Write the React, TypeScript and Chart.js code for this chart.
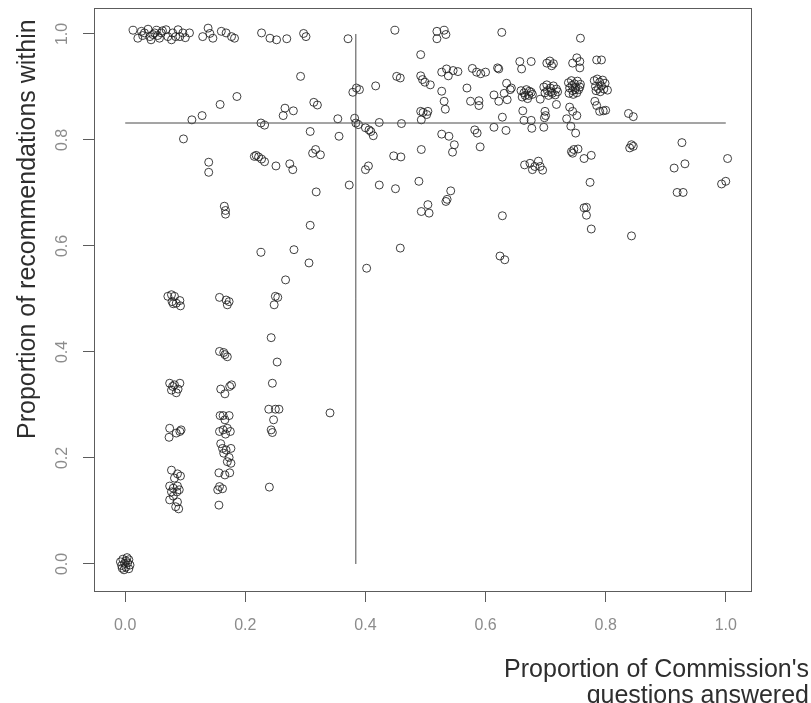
import { useEffect, useRef } from "react";
import { Chart, registerables } from "chart.js";

Chart.register(...registerables);

type Pt = [number, number];

// Axis ticks and titles
const xTickValues = [0, 0.2, 0.4, 0.6, 0.8, 1.0];
const yTickValues = [0, 0.2, 0.4, 0.6, 0.8, 1.0];
const xTitleLines = ["Proportion of Commission's", "questions answered"];
const yTitle = "Proportion of recommendations within";

// Reference lines (median share of questions answered / recommendations within)
const medianAnswered = 0.384;
const medianWithin = 0.832;

// Bodies that answered no questions and made no recommendations within
const nothingAnswered: Pt[] = [
  [-0.008, 0.004], [-0.004, 0.009], [0.001, 0.006], [0.006, 0.008], [-0.006, -0.003],
  [-0.001, 0.001], [0.004, 0.002], [0.008, -0.002], [-0.005, -0.008], [0.001, -0.006],
  [0.006, -0.009], [0.003, 0.012], [-0.002, -0.011],
];

// Everything within, few questions answered
const allWithin: Pt[] = [
  [0.013, 1.007], [0.021, 0.992], [0.027, 1.005], [0.029, 0.997], [0.032, 1.002],
  [0.038, 1.009], [0.041, 0.995], [0.043, 0.989], [0.046, 0.999], [0.049, 1.002],
  [0.052, 1.007], [0.054, 0.997], [0.057, 0.992], [0.06, 1.002], [0.062, 1.006],
  [0.068, 1.008], [0.071, 0.995], [0.077, 0.989], [0.079, 1.002], [0.084, 0.995],
  [0.088, 1.008], [0.091, 0.995], [0.096, 1.002], [0.1, 0.993], [0.107, 1.002],
  [0.129, 0.995], [0.138, 1.011], [0.141, 1.001], [0.146, 0.992], [0.16, 1.005],
  [0.168, 1.002], [0.177, 0.995], [0.182, 0.992], [0.227, 1.002], [0.241, 0.992],
  [0.252, 0.989], [0.269, 0.991], [0.297, 1.001], [0.301, 0.995], [0.371, 0.991],
  [0.449, 1.007], [0.519, 1.005], [0.531, 1.007], [0.519, 0.991], [0.534, 0.999],
  [0.627, 1.003], [0.758, 0.992],
];

// One twelfth of questions answered
const oneTwelfth: Pt[] = [
  [0.071, 0.505], [0.077, 0.508], [0.082, 0.505], [0.078, 0.495], [0.085, 0.492],
  [0.091, 0.497], [0.092, 0.487], [0.08, 0.491],
  [0.074, 0.341], [0.079, 0.335], [0.091, 0.341], [0.077, 0.328], [0.085, 0.323],
  [0.082, 0.338], [0.088, 0.33],
  [0.074, 0.256], [0.073, 0.239], [0.085, 0.247], [0.091, 0.25], [0.093, 0.253],
  [0.077, 0.177], [0.087, 0.17], [0.082, 0.162], [0.092, 0.166], [0.074, 0.147],
  [0.08, 0.143], [0.087, 0.147], [0.077, 0.136], [0.086, 0.136], [0.09, 0.14],
  [0.08, 0.128], [0.074, 0.121], [0.087, 0.117], [0.084, 0.108], [0.089, 0.104],
];

// Two twelfths of questions answered
const twoTwelfths: Pt[] = [
  [0.157, 0.503], [0.168, 0.498], [0.173, 0.495], [0.17, 0.489],
  [0.157, 0.401], [0.164, 0.399], [0.17, 0.391], [0.166, 0.395],
  [0.159, 0.33], [0.166, 0.321], [0.174, 0.335], [0.177, 0.338],
  [0.158, 0.28], [0.163, 0.28], [0.173, 0.28], [0.166, 0.272],
  [0.157, 0.25], [0.163, 0.253], [0.17, 0.256], [0.175, 0.25], [0.167, 0.245],
  [0.159, 0.227], [0.162, 0.218], [0.168, 0.215], [0.176, 0.218], [0.164, 0.209],
  [0.173, 0.201], [0.17, 0.193], [0.176, 0.19],
  [0.156, 0.172], [0.166, 0.168], [0.174, 0.172],
  [0.157, 0.146], [0.154, 0.14], [0.162, 0.142], [0.156, 0.111],
];

// Three twelfths and the sparse middle band
const threeTwelfths: Pt[] = [
  [0.25, 0.505], [0.254, 0.503], [0.248, 0.489], [0.243, 0.427], [0.253, 0.381],
  [0.245, 0.341], [0.239, 0.292], [0.25, 0.292], [0.256, 0.292], [0.247, 0.272],
  [0.243, 0.253], [0.245, 0.248], [0.24, 0.145], [0.341, 0.285],
  [0.226, 0.588], [0.281, 0.593], [0.306, 0.568], [0.267, 0.536], [0.402, 0.558],
  [0.458, 0.596], [0.624, 0.581], [0.632, 0.574],
];

// Upper band, below the median share answered
const upperLeft: Pt[] = [
  [0.292, 0.92], [0.186, 0.882], [0.158, 0.867], [0.128, 0.846], [0.111, 0.838],
  [0.097, 0.802], [0.139, 0.758], [0.139, 0.739], [0.165, 0.675], [0.167, 0.667],
  [0.167, 0.66], [0.226, 0.832], [0.232, 0.828], [0.215, 0.769], [0.218, 0.771],
  [0.222, 0.768], [0.227, 0.764], [0.232, 0.759], [0.251, 0.751], [0.274, 0.755],
  [0.279, 0.744], [0.266, 0.86], [0.263, 0.846], [0.28, 0.855], [0.308, 0.639],
  [0.314, 0.871], [0.32, 0.866], [0.308, 0.816], [0.312, 0.775], [0.317, 0.782],
  [0.325, 0.772], [0.318, 0.702], [0.354, 0.84], [0.356, 0.807], [0.373, 0.715],
  [0.379, 0.89], [0.385, 0.898], [0.39, 0.895], [0.382, 0.841], [0.384, 0.832],
  [0.388, 0.829], [0.4, 0.823], [0.406, 0.819], [0.409, 0.816], [0.413, 0.808],
  [0.417, 0.902], [0.423, 0.833], [0.4, 0.744], [0.405, 0.751], [0.423, 0.715],
  [0.447, 0.77], [0.459, 0.768], [0.45, 0.708], [0.452, 0.92], [0.458, 0.917],
  [0.46, 0.831],
];

// Upper band, from half of the questions answered
const upperMiddle: Pt[] = [
  [0.492, 0.961], [0.492, 0.921], [0.495, 0.914], [0.499, 0.909], [0.508, 0.904],
  [0.527, 0.928], [0.535, 0.934], [0.538, 0.921], [0.546, 0.931], [0.554, 0.929],
  [0.527, 0.892], [0.531, 0.873], [0.533, 0.858], [0.492, 0.854], [0.496, 0.852],
  [0.504, 0.854], [0.502, 0.848], [0.493, 0.838], [0.527, 0.811], [0.539, 0.807],
  [0.548, 0.791], [0.545, 0.777], [0.493, 0.782], [0.489, 0.722], [0.542, 0.704],
  [0.534, 0.684], [0.536, 0.688], [0.504, 0.678], [0.493, 0.665], [0.506, 0.662],
  [0.591, 0.787], [0.582, 0.819], [0.586, 0.813], [0.578, 0.935], [0.585, 0.928],
  [0.592, 0.925], [0.6, 0.928], [0.569, 0.898], [0.575, 0.873], [0.589, 0.874],
  [0.589, 0.865], [0.62, 0.936], [0.622, 0.934], [0.614, 0.885], [0.622, 0.873],
  [0.635, 0.907], [0.631, 0.888], [0.636, 0.876], [0.643, 0.898], [0.641, 0.895],
  [0.614, 0.824], [0.628, 0.843], [0.634, 0.818], [0.628, 0.657],
];

// Two-thirds answered cluster
const twoThirds: Pt[] = [
  [0.659, 0.893], [0.664, 0.889], [0.668, 0.895], [0.672, 0.884], [0.676, 0.89],
  [0.661, 0.881], [0.67, 0.878], [0.678, 0.886], [0.666, 0.884], [0.673, 0.892],
  [0.657, 0.948], [0.66, 0.934], [0.676, 0.948], [0.691, 0.877], [0.662, 0.855],
  [0.664, 0.837], [0.676, 0.837], [0.677, 0.822], [0.697, 0.824], [0.699, 0.854],
  [0.7, 0.846], [0.698, 0.842], [0.718, 0.867],
  [0.665, 0.753], [0.674, 0.756], [0.682, 0.75], [0.688, 0.76], [0.691, 0.75],
  [0.695, 0.743], [0.678, 0.744],
  [0.697, 0.9], [0.702, 0.904], [0.708, 0.898], [0.713, 0.902], [0.718, 0.896],
  [0.699, 0.889], [0.705, 0.884], [0.711, 0.888], [0.716, 0.885], [0.703, 0.893],
  [0.709, 0.891], [0.72, 0.891], [0.702, 0.945], [0.707, 0.949], [0.713, 0.944],
  [0.71, 0.94],
];

// Three-quarters answered and beyond
const threeQuarters: Pt[] = [
  [0.735, 0.84], [0.742, 0.826], [0.75, 0.813], [0.74, 0.862], [0.745, 0.854],
  [0.752, 0.846], [0.738, 0.908], [0.743, 0.912], [0.748, 0.906], [0.753, 0.911],
  [0.758, 0.905], [0.74, 0.898], [0.745, 0.893], [0.75, 0.899], [0.755, 0.895],
  [0.739, 0.888], [0.746, 0.886], [0.752, 0.889], [0.757, 0.9], [0.744, 0.903],
  [0.749, 0.895], [0.745, 0.945], [0.752, 0.955], [0.757, 0.948], [0.757, 0.936],
  [0.743, 0.778], [0.747, 0.782], [0.754, 0.783], [0.745, 0.775], [0.764, 0.765],
  [0.776, 0.771], [0.774, 0.72], [0.764, 0.672], [0.768, 0.673], [0.768, 0.658],
  [0.776, 0.632], [0.785, 0.951], [0.793, 0.951],
  [0.781, 0.912], [0.786, 0.915], [0.79, 0.909], [0.795, 0.913], [0.799, 0.907],
  [0.783, 0.901], [0.788, 0.897], [0.793, 0.902], [0.797, 0.896], [0.784, 0.893],
  [0.791, 0.891], [0.803, 0.894], [0.782, 0.873], [0.785, 0.865], [0.79, 0.854],
  [0.796, 0.855], [0.8, 0.856], [0.838, 0.85], [0.846, 0.844], [0.84, 0.785],
  [0.846, 0.788], [0.843, 0.791], [0.843, 0.619], [0.927, 0.795], [0.914, 0.747],
  [0.932, 0.755], [0.919, 0.701], [0.929, 0.701], [1.003, 0.765], [0.993, 0.717],
  [1.0, 0.722],
];

const groups: Pt[][] = [
  nothingAnswered, allWithin, oneTwelfth, twoTwelfths, threeTwelfths,
  upperLeft, upperMiddle, twoThirds, threeQuarters,
];

const FONT = "'Liberation Sans', Arial, Helvetica, sans-serif";

// Draws the closed plot box and the two axis titles
const frameAndTitles = {
  id: "frameAndTitles",
  afterDraw(chart: Chart) {
    const { ctx, chartArea: a } = chart;
    ctx.save();
    ctx.strokeStyle = "#5c5c5c";
    ctx.lineWidth = 1;
    ctx.strokeRect(
      Math.round(a.left) + 0.5,
      Math.round(a.top) + 0.5,
      Math.round(a.right - a.left),
      Math.round(a.bottom - a.top)
    );

    ctx.fillStyle = "#2e2e2e";
    ctx.font = `25px ${FONT}`;
    ctx.textBaseline = "alphabetic";
    ctx.textAlign = "right";
    ctx.fillText(xTitleLines[0], 809, 676.5);
    ctx.fillText(xTitleLines[1], 809, 702.5);

    ctx.translate(35, 439);
    ctx.rotate(-Math.PI / 2);
    ctx.textAlign = "left";
    ctx.fillText(yTitle, 0, 0);
    ctx.restore();
  },
};

export default function App() {
  const canvasRef = useRef<HTMLCanvasElement | null>(null);

  useEffect(() => {
    const canvas = canvasRef.current;
    if (!canvas) return;

    const points = groups.flat().map(([x, y]) => ({ x, y }));

    const chart = new Chart(canvas, {
      type: "scatter",
      data: {
        datasets: [
          {
            type: "line",
            data: [
              { x: medianAnswered, y: 0 },
              { x: medianAnswered, y: 1 },
            ],
            borderColor: "#4a4a4a",
            borderWidth: 1,
            pointRadius: 0,
            fill: false,
          },
          {
            type: "line",
            data: [
              { x: 0, y: medianWithin },
              { x: 1, y: medianWithin },
            ],
            borderColor: "#4a4a4a",
            borderWidth: 1,
            pointRadius: 0,
            fill: false,
          },
          {
            type: "scatter",
            data: points,
            pointStyle: "circle",
            pointRadius: 4,
            pointHoverRadius: 4,
            pointBorderWidth: 1,
            borderColor: "rgba(30,30,30,0.85)",
            backgroundColor: "rgba(0,0,0,0)",
          },
        ],
      },
      options: {
        responsive: false,
        animation: false,
        events: [],
        layout: { padding: { left: 0, top: 8, right: 60, bottom: 0 } },
        plugins: {
          legend: { display: false },
          tooltip: { enabled: false },
        },
        scales: {
          x: {
            type: "linear",
            min: -0.052,
            max: 1.042,
            afterBuildTicks: (scale: any) => {
              scale.ticks = xTickValues.map((value) => ({ value }));
            },
            afterFit: (scale: any) => {
              scale.height = 112;
              scale.paddingLeft = 0;
              scale.paddingRight = 0;
            },
            border: { display: false },
            grid: {
              display: true,
              drawOnChartArea: false,
              drawTicks: true,
              tickLength: 11,
              color: "#5c5c5c",
            },
            ticks: {
              autoSkip: false,
              maxRotation: 0,
              minRotation: 0,
              padding: 14,
              color: "#8c8c8c",
              font: { size: 16, family: FONT },
              callback: (v: any) => Number(v).toFixed(1),
            },
          },
          y: {
            type: "linear",
            min: -0.051,
            max: 1.049,
            afterBuildTicks: (scale: any) => {
              scale.ticks = yTickValues.map((value) => ({ value }));
            },
            afterFit: (scale: any) => {
              scale.width = 94;
              scale.paddingTop = 0;
              scale.paddingBottom = 0;
            },
            border: { display: false },
            grid: {
              display: true,
              drawOnChartArea: false,
              drawTicks: true,
              tickLength: 11,
              color: "#5c5c5c",
            },
            ticks: {
              autoSkip: false,
              minRotation: 90,
              maxRotation: 90,
              crossAlign: "center",
              padding: 9,
              color: "#8c8c8c",
              font: { size: 16, family: FONT },
              callback: (v: any) => Number(v).toFixed(1),
            },
          },
        },
      },
      plugins: [frameAndTitles],
    });

    return () => chart.destroy();
  }, []);

  return (
    <div style={{ position: "absolute", left: 0, top: 0, width: 811, height: 703, background: "#fff" }}>
      <canvas ref={canvasRef} width={811} height={703} style={{ display: "block" }} />
    </div>
  );
}
